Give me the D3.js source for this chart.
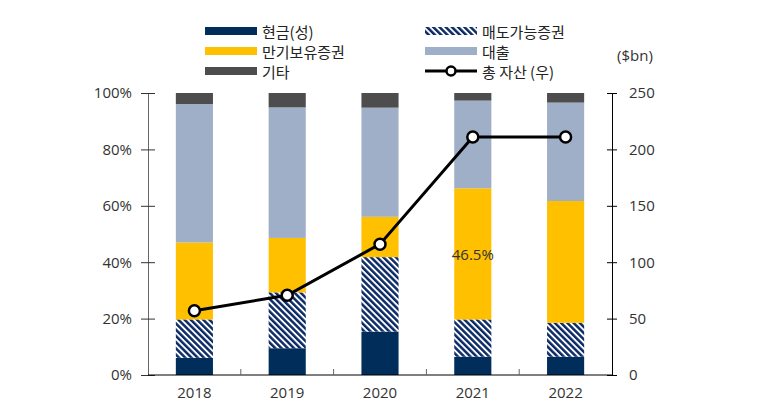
<!DOCTYPE html>
<html><head><meta charset="utf-8">
<script src="https://cdn.jsdelivr.net/npm/d3@7"></script>
<style>body{margin:0;background:#fff}svg{display:block}</style>
</head><body>
<svg id="c" width="765" height="411"></svg>
<script>
const years = ["2018","2019","2020","2021","2022"];
const cash   = [6.1, 9.5, 15.4, 6.5, 6.5];
const afs    = [13.6, 19.8, 26.4, 13.2, 12.0];
const htm    = [27.3, 19.3, 14.3, 46.5, 43.2];
const loans  = [49.1, 46.3, 38.7, 31.1, 34.9];
const other  = [3.9, 5.1, 5.2, 2.7, 3.4];
const totalAssets = [57, 70.7, 116, 211, 211];
const leftTicks = [0, 20, 40, 60, 80, 100];
const rightTicks = [0, 50, 100, 150, 200, 250];
const seriesNames = ["현금(성)", "매도가능증권", "만기보유증권", "대출", "기타"];
const lineName = "총 자산 (우)";
const unitLabel = "($bn)";
const annotation = {year: "2021", series: 2, text: "46.5%"};

const colors = ["#002D59", "url(#afs)", "#FFC000", "#A0AFC8", "#4D4D4D"];
const font = "'Noto Sans CJK KR','Noto Sans',sans-serif";
const numFont = "'Open Sans',sans-serif";

const svg = d3.select("#c");
const defs = svg.append("defs");
const pat = defs.append("pattern").attr("id","afs").attr("patternUnits","userSpaceOnUse")
  .attr("width",4.4).attr("height",8).attr("patternTransform","rotate(-45)");
pat.append("rect").attr("width",4.4).attr("height",8).attr("fill","#fff");
pat.append("rect").attr("width",2.5).attr("height",8).attr("fill","#0B2A66");

const L = 148, R = 612, T = 93, B = 375;
const x = d3.scaleBand().domain(years).range([L, R]).paddingInner(0.6).paddingOuter(0.3);
const y = d3.scaleLinear().domain([0,100]).range([B, T]);
const y2 = d3.scaleLinear().domain([0,250]).range([B, T]);

const table = years.map((yr,i)=>({year:yr, s0:cash[i], s1:afs[i], s2:htm[i], s3:loans[i], s4:other[i]}));
const stack = d3.stack().keys(["s0","s1","s2","s3","s4"])(table);

svg.append("g").selectAll("g").data(stack).join("g")
  .attr("fill",(d,i)=>colors[i])
  .selectAll("rect").data(d=>d).join("rect")
  .attr("x",d=>x(d.data.year)).attr("width",x.bandwidth())
  .attr("y",d=>y(d[1])).attr("height",d=>y(d[0])-y(d[1]));

// annotation
const ai = years.indexOf(annotation.year);
const seg = stack[annotation.series][ai];
svg.append("text").attr("x",x(annotation.year)+x.bandwidth()/2).attr("y",(y(seg[0])+y(seg[1]))/2)
  .attr("text-anchor","middle").attr("dominant-baseline","central")
  .attr("font-family",numFont).attr("font-size",15).attr("fill","#333").text(annotation.text);

// axes
const gl = svg.append("g").attr("transform",`translate(${L},0)`)
  .call(d3.axisLeft(y).tickValues(leftTicks).tickFormat(d=>d+"%").tickSize(0).tickPadding(16));
gl.select(".domain").attr("stroke","#666");
gl.selectAll(".tick line").remove();
gl.selectAll(".tick").append("line").attr("x1",-7).attr("x2",7).attr("stroke","#333");
gl.selectAll("text").attr("font-family",numFont).attr("font-size",15).attr("fill","#333");

const gr = svg.append("g").attr("transform",`translate(${R},0)`)
  .call(d3.axisRight(y2).tickValues(rightTicks).tickSize(0).tickPadding(17));
gr.select(".domain").attr("stroke","#000");
gr.selectAll(".tick").append("line").attr("x1",-5).attr("x2",5).attr("stroke","#000");
gr.selectAll("text").attr("font-family",numFont).attr("font-size",15).attr("fill","#333");

const gb = svg.append("g").attr("transform",`translate(0,${B})`)
  .call(d3.axisBottom(x).tickSize(0).tickPadding(12));
gb.select(".domain").attr("stroke","#000").attr("d",`M${L},0H${R}`);
gb.selectAll("text").attr("font-family",numFont).attr("font-size",15).attr("fill","#333");
const step = x.step();
gb.selectAll(".sep").data(years.slice(1)).join("line")
  .attr("x1",d=>x(d)-step*0.3).attr("x2",d=>x(d)-step*0.3).attr("y1",-6).attr("y2",0).attr("stroke","#666");

svg.append("text").attr("x",635).attr("y",61).attr("text-anchor","middle")
  .attr("font-family",numFont).attr("font-size",15).attr("fill","#333").text(unitLabel);

// line
const cx = d=>x(d)+x.bandwidth()/2;
const line = d3.line().x((d,i)=>cx(years[i])).y(d=>y2(d));
svg.append("path").datum(totalAssets).attr("d",line).attr("fill","none").attr("stroke","#000").attr("stroke-width",3);
svg.append("g").selectAll("circle").data(totalAssets).join("circle")
  .attr("cx",(d,i)=>cx(years[i])).attr("cy",d=>y2(d)).attr("r",5.5)
  .attr("fill","#fff").attr("stroke","#000").attr("stroke-width",2.5);

// legend
const leg = [
  {name:seriesNames[0], c:colors[0], x:205, y:31},
  {name:seriesNames[1], c:colors[1], x:425, y:31},
  {name:seriesNames[2], c:colors[2], x:205, y:51},
  {name:seriesNames[3], c:colors[3], x:425, y:51},
  {name:seriesNames[4], c:colors[4], x:205, y:71},
];
const lg = svg.append("g");
leg.forEach(d=>{
  lg.append("rect").attr("x",d.x).attr("y",d.y-4).attr("width",52).attr("height",8).attr("fill",d.c);
  lg.append("text").attr("x",d.x+57).attr("y",d.y).attr("dominant-baseline","central")
    .attr("font-family",font).attr("font-size",15).attr("fill","#222").text(d.name);
});
lg.append("line").attr("x1",425).attr("x2",477).attr("y1",71).attr("y2",71).attr("stroke","#000").attr("stroke-width",3);
lg.append("circle").attr("cx",451).attr("cy",71).attr("r",4.5).attr("fill","#fff").attr("stroke","#000").attr("stroke-width",2.5);
lg.append("text").attr("x",482).attr("y",71).attr("dominant-baseline","central")
  .attr("font-family",font).attr("font-size",15).attr("fill","#222").text(lineName);
</script>
</body></html>
